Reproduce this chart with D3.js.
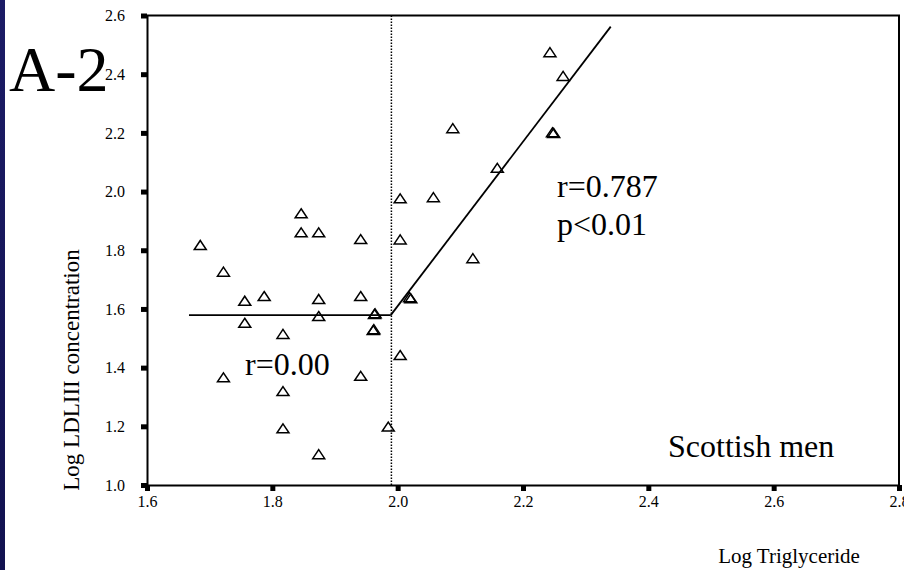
<!DOCTYPE html>
<html>
<head>
<meta charset="utf-8">
<script src="https://cdn.jsdelivr.net/npm/d3@7"></script>
<style>
  html, body { margin: 0; padding: 0; background: #fff; }
  svg { display: block; font-family: "Liberation Serif", "Times New Roman", serif; }
</style>
</head>
<body>
<svg id="chart" width="904" height="570"></svg>
<script>
// Log triglyceride (x) vs log LDLIII concentration (y), Scottish men
const logTG = [
  1.685, 1.722, 1.756, 1.787, 1.846, 1.846, 1.874, 1.874, 1.874, 1.756,
  1.941, 1.941, 1.964, 1.963, 2.004, 2.004, 2.019, 2.021, 1.961, 1.962,
  1.817, 2.004, 1.722, 1.941, 1.817, 1.817, 1.985, 1.874,
  2.243, 2.264, 2.088, 2.247, 2.249, 2.159, 2.057, 2.120
];
const logLDL3 = [
  1.818, 1.727, 1.628, 1.644, 1.926, 1.861, 1.861, 1.634, 1.576, 1.553,
  1.838, 1.644, 1.585, 1.583, 1.977, 1.837, 1.640, 1.636, 1.528, 1.531,
  1.515, 1.443, 1.367, 1.372, 1.320, 1.193, 1.199, 1.105,
  2.475, 2.394, 2.216, 2.202, 2.200, 2.081, 1.981, 1.773
];

// Piecewise fit: flat below the breakpoint, rising above it
const breakpointTG = 1.99;
const flatFitX = [1.667, 1.989];
const flatFitY = [1.579, 1.579];
const risingFitX = [1.989, 2.340];
const risingFitY = [1.579, 2.562];

const xTicks = [1.6, 1.8, 2.0, 2.2, 2.4, 2.6, 2.8];
const yTicks = [1.0, 1.2, 1.4, 1.6, 1.8, 2.0, 2.2, 2.4, 2.6];

const svg = d3.select("#chart");

// navy strip down the left edge
const grad = svg.append("defs").append("linearGradient")
  .attr("id", "strip").attr("x1", 0).attr("y1", 0).attr("x2", 0).attr("y2", 1);
grad.append("stop").attr("offset", "0%").attr("stop-color", "#1c1c66");
grad.append("stop").attr("offset", "100%").attr("stop-color", "#121250");
svg.append("rect").attr("x", 0).attr("y", 0).attr("width", 5).attr("height", 570)
  .attr("fill", "url(#strip)");

const L = 147, R = 899, T = 15.5, B = 485;
const x = d3.scaleLinear().domain([1.6, 2.8]).range([L, R]);
const y = d3.scaleLinear().domain([1.0, 2.6]).range([B, T]);
const fmt = d3.format(".1f");

// frame (top and right)
svg.append("path")
  .attr("d", `M${L},${T}H${R}V${B}`)
  .attr("fill", "none").attr("stroke", "#000").attr("stroke-width", 2);

// axes with square tick marks
const yAxis = svg.append("g").attr("transform", `translate(${L},0)`)
  .call(d3.axisLeft(y).tickValues(yTicks).tickFormat(fmt)
    .tickSizeInner(6).tickSizeOuter(0).tickPadding(16));
const xAxis = svg.append("g").attr("transform", `translate(0,${B})`)
  .call(d3.axisBottom(x).tickValues(xTicks).tickFormat(fmt)
    .tickSizeInner(6).tickSizeOuter(0).tickPadding(5));
[yAxis, xAxis].forEach(g => {
  g.select(".domain").attr("stroke", "#000").attr("stroke-width", 2);
  g.selectAll(".tick line").attr("stroke", "#000").attr("stroke-width", 5);
  g.selectAll(".tick text").attr("fill", "#000")
    .style("font-family", "Liberation Serif, serif").style("font-size", "16px");
});

// breakpoint marker
svg.append("line")
  .attr("x1", x(breakpointTG)).attr("x2", x(breakpointTG))
  .attr("y1", T).attr("y2", B)
  .attr("stroke", "#000").attr("stroke-width", 1.5)
  .attr("stroke-dasharray", "1.5,1.5");

// fitted segments
const line = d3.line().x(d => x(d[0])).y(d => y(d[1]));
[[flatFitX, flatFitY], [risingFitX, risingFitY]].forEach(([xs, ys]) => {
  svg.append("path")
    .attr("d", line(d3.zip(xs, ys)))
    .attr("fill", "none").attr("stroke", "#000").attr("stroke-width", 1.8);
});

// open triangle markers
const tri = "M0,-4.5L6,4.5L-6,4.5Z";
svg.append("g").selectAll("path")
  .data(d3.zip(logTG, logLDL3))
  .join("path")
  .attr("d", tri)
  .attr("transform", d => `translate(${x(d[0])},${y(d[1])})`)
  .attr("fill", "none").attr("stroke", "#000").attr("stroke-width", 1.5);

// annotations
const big = (t, px, py, size) => svg.append("text")
  .attr("x", px).attr("y", py).attr("fill", "#000")
  .style("font-size", size + "px").text(t);
big("A-2", 9, 91, 64);
big("r=0.00", 245, 375, 32);
big("r=0.787", 557, 197, 32);
big("p<0.01", 557, 235, 32);
big("Scottish men", 668, 457, 32);

// axis titles
svg.append("text").attr("x", 789).attr("y", 563).attr("text-anchor", "middle")
  .attr("fill", "#000").style("font-size", "21px").text("Log Triglyceride");
svg.append("text").attr("transform", "translate(79,370) rotate(-90)")
  .attr("text-anchor", "middle").attr("fill", "#000")
  .style("font-size", "23px").text("Log LDLIII concentration");
</script>
</body>
</html>
